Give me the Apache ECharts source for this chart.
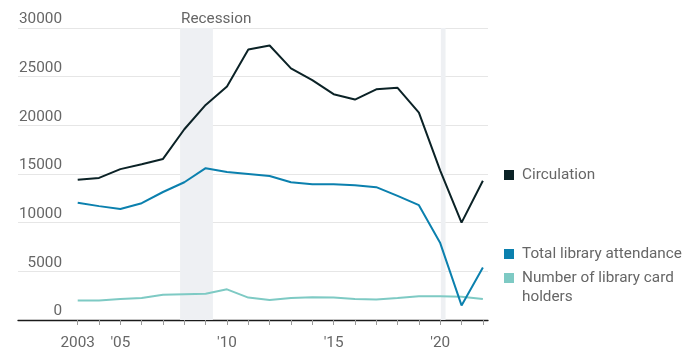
<!DOCTYPE html>
<html>
<head>
<meta charset="utf-8">
<script src="https://cdn.jsdelivr.net/npm/echarts@6/dist/echarts.min.js"></script>
<style>
html,body{margin:0;padding:0;background:#fff;}
#chart{width:689px;height:356px;}
</style>
</head>
<body>
<div id="chart"></div>
<script>
var years = [2003,2004,2005,2006,2007,2008,2009,2010,2011,2012,2013,2014,2015,2016,2017,2018,2019,2020,2021,2022];
var circulation = [14400,14600,15500,16000,16550,19600,22100,24000,27800,28200,25850,24650,23200,22650,23700,23850,21300,15350,10000,14300];
var attendance = [12050,11700,11400,12000,13150,14150,15600,15200,15000,14800,14150,13950,13950,13850,13650,12750,11800,7900,1500,5400];
var cardHolders = [2000,2000,2150,2250,2600,2650,2700,3150,2300,2050,2250,2350,2300,2150,2100,2250,2450,2450,2400,2150];
var xTickValues = [2003,2004,2005,2006,2007,2008,2009,2010,2011,2012,2013,2014,2015,2016,2017,2018,2019,2020,2021,2022];
var xLabelValues = [2003,2005,2010,2015,2020];
var xLabelTexts = ['2003',"'05","'10","'15","'20"];
var yTicks = [0,5000,10000,15000,20000,25000,30000];
var recession = [2007.8, 2009.34];
var covid = [2020.03, 2020.25];
var seriesNames = ['Circulation','Total library attendance','Number of library card holders'];
var colors = ['#0b2226','#0b80ae','#7ecac4'];

function pairs(vals){ return years.map(function(y,i){ return [y, vals[i]]; }); }

var chart = echarts.init(document.getElementById('chart'), null, {renderer:'canvas'});
var font = 'Roboto, "Noto Sans", sans-serif';
var fs = 15.3;
var option = {
  animation:false,
  grid:{left:18, right:201, top:28, bottom:36, containLabel:false},
  xAxis:{
    type:'value', min:2000.2, max:2022.24,
    axisLine:{show:true, onZero:false, lineStyle:{color:'#1a1a1a', width:1.3}},
    axisTick:{show:true, length:5, customValues:xTickValues, lineStyle:{color:'#999', width:1}},
    axisLabel:{show:true, customValues:xLabelValues, margin:16, color:'#666', fontFamily:font, fontSize:fs,
      formatter:function(v){ var i = xLabelValues.indexOf(Math.round(v)); return i>=0 ? xLabelTexts[i] : ''; }},
    splitLine:{show:false}
  },
  yAxis:{
    type:'value', min:yTicks[0], max:yTicks[yTicks.length-1], interval:5000,
    axisLine:{show:false}, axisTick:{show:false},
    axisLabel:{inside:true, align:'right', margin:44, verticalAlign:'bottom', lineHeight:15, padding:[0,0,1,0],
      color:'#666', fontFamily:font, fontSize:fs, formatter:function(v){ return String(v); }},
    splitLine:{show:true, lineStyle:{color:'#e6e6e6', width:1}}
  },
  series:[
    {name:seriesNames[2], type:'line', data:pairs(cardHolders), showSymbol:false, symbol:'none',
      lineStyle:{color:colors[2], width:2}, itemStyle:{color:colors[2]}, z:3,
      markArea:{silent:true, itemStyle:{color:'#eef0f3'}, z:1,
        data:[
          [{xAxis:recession[0], label:{show:true, formatter:'Recession', position:[1,-16], color:'#666', fontFamily:font, fontSize:fs}},{xAxis:recession[1]}],
          [{xAxis:covid[0], label:{show:false}},{xAxis:covid[1]}]
        ]}},
    {name:seriesNames[1], type:'line', data:pairs(attendance), showSymbol:false, symbol:'none',
      lineStyle:{color:colors[1], width:2}, itemStyle:{color:colors[1]}, z:4},
    {name:seriesNames[0], type:'line', data:pairs(circulation), showSymbol:false, symbol:'none',
      lineStyle:{color:colors[0], width:2}, itemStyle:{color:colors[0]}, z:5}
  ],
  graphic:[
    {type:'rect', left:504, top:170, shape:{width:10, height:10}, style:{fill:colors[0]}},
    {type:'text', left:522, top:168, style:{text:seriesNames[0], fill:'#666', font:fs+'px '+font}},
    {type:'rect', left:504, top:249, shape:{width:10, height:10}, style:{fill:colors[1]}},
    {type:'text', left:522, top:247, style:{text:seriesNames[1], fill:'#666', font:fs+'px '+font}},
    {type:'rect', left:504, top:273, shape:{width:10, height:10}, style:{fill:colors[2]}},
    {type:'text', left:522, top:269, style:{text:'Number of library card\nholders', fill:'#666', font:fs+'px '+font, lineHeight:18.5}}
  ]
};
chart.setOption(option);
</script>
</body>
</html>
